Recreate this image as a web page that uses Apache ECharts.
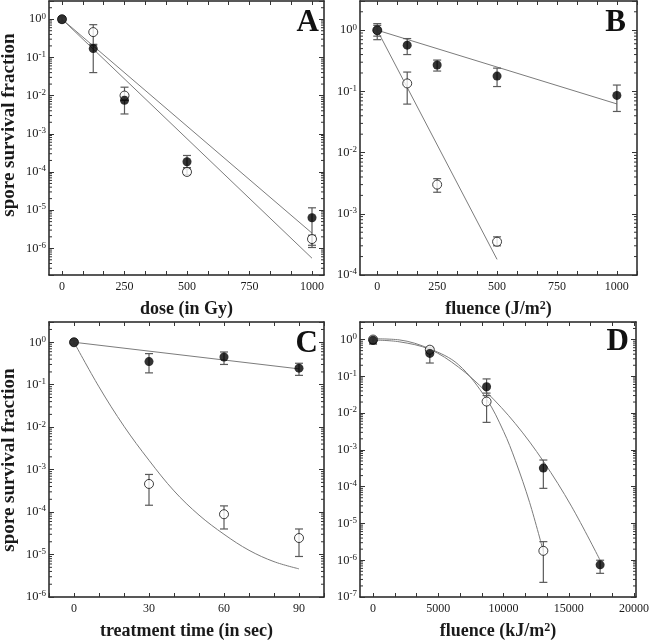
<!DOCTYPE html>
<html><head><meta charset="utf-8">
<script src="https://cdn.jsdelivr.net/npm/echarts@6/dist/echarts.min.js"></script>
<style>html,body{margin:0;padding:0;background:#fff}#c{width:650px;height:644px}</style>
</head><body><div id="c"></div>
<script>
// ---------- Panel A: dose (Gy) ----------
const aX = [0, 125, 250, 500, 1000];
const aFilled   = [1.0, 0.17, 0.0075, 1.85e-4, 6.3e-6];
const aFilledLo = [0.85, 0.04, 0.0033, 1.3e-4, 1.05e-6];
const aFilledHi = [1.15, 0.21, 0.0095, 2.7e-4, 1.15e-5];
const aOpen   = [1.0, 0.46, 0.0100, 1.0e-4, 1.75e-6];
const aOpenLo = [0.85, 0.22, 0.0075, 8.5e-5, 1.2e-6];
const aOpenHi = [1.15, 0.72, 0.0166, 1.2e-4, 2.2e-6];
const aFitX = [0, 1000];
const aFit1Y = [1.0, 2.5e-6];
const aFit2Y = [1.0, 5.5e-7];
const xTicksA = [0, 250, 500, 750, 1000];

// ---------- Panel B: fluence (J/m2) ----------
const bX = [0, 125, 250, 500, 1000];
const bFilled   = [1.0, 0.57, 0.27, 0.178, 0.086];
const bFilledLo = [0.70, 0.40, 0.215, 0.12, 0.047];
const bFilledHi = [1.28, 0.73, 0.325, 0.24, 0.127];
const bOpenX = [0, 125, 250, 500];
const bOpen   = [1.0, 0.135, 0.0030, 3.5e-4];
const bOpenLo = [0.8, 0.062, 0.00225, 3.0e-4];
const bOpenHi = [1.2, 0.207, 0.00375, 4.2e-4];
const bFit1X = [0, 1000];
const bFit1Y = [1.0, 0.0624];
const bFit2X = [0, 500];
const bFit2Y = [1.0, 1.8e-4];
const xTicksB = [0, 250, 500, 750, 1000];

// ---------- Panel C: treatment time (s) ----------
const cX = [0, 30, 60, 90];
const cFilled   = [1.0, 0.35, 0.45, 0.245];
const cFilledLo = [0.9, 0.19, 0.30, 0.166];
const cFilledHi = [1.1, 0.54, 0.59, 0.32];
const cOpen   = [1.0, 4.6e-4, 8.9e-5, 2.45e-5];
const cOpenLo = [0.9, 1.45e-4, 4.0e-5, 9.0e-6];
const cOpenHi = [1.1, 7.7e-4, 1.4e-4, 4.0e-5];
const cFit1X = [0, 90];
const cFit1Y = [1.0, 0.236];
const cFit2X = [0, 10, 20, 30, 40, 50, 60, 70, 80, 90];
const cFit2Y = [1.0, 0.089, 0.0105, 1.66e-3, 3.16e-4, 8.5e-5, 3.0e-5, 1.26e-5, 6.8e-6, 4.6e-6];
const xTicksC = [0, 30, 60, 90];

// ---------- Panel D: fluence (kJ/m2) ----------
const dX = [0, 4350, 8700, 13050, 17400];
const dFilled   = [0.95, 0.42, 0.052, 3.2e-4, 7.5e-7];
const dFilledLo = [0.75, 0.23, 0.03, 9.0e-5, 4.4e-7];
const dFilledHi = [1.15, 0.55, 0.085, 5.3e-4, 1.0e-6];
const dOpenX = [0, 4350, 8700, 13050];
const dOpen   = [1.0, 0.53, 0.0206, 1.8e-6];
const dOpenLo = [0.8, 0.45, 0.0056, 2.5e-7];
const dOpenHi = [1.15, 0.62, 0.035, 3.2e-6];
const dFit1X = [0, 2000, 4350, 6530, 8700, 10900, 13050, 15200, 17400];
const dFit1Y = [0.97, 0.87, 0.54, 0.18, 0.037, 5.2e-3, 4.9e-4, 2.95e-5, 1.0e-6];
const dFit2X = [0, 2000, 4350, 6530, 8700, 10000, 10900, 12000, 13050];
const dFit2Y = [1.05, 0.98, 0.56, 0.21, 0.024, 3.2e-3, 5.2e-4, 3.7e-5, 1.74e-6];
const xTicksD = [0, 5000, 10000, 15000, 20000];

const FONT = '"Liberation Serif","Times New Roman",serif';
const INK = '#1a1a1a';
const BAR = '#5a5a5a';
const FIT = '#7c7c7c';

const zip = (xs, ys) => xs.map((x, i) => [x, ys[i]]);
const zip3 = (xs, lo, hi) => xs.map((x, i) => [x, lo[i], hi[i]]);

function splitTicks(major, n, range) {
  const step = (major[1] - major[0]) / n, out = [];
  const k0 = Math.ceil((range[0] - major[0]) / step - 1e-9);
  const k1 = Math.floor((range[1] - major[0]) / step + 1e-9);
  for (let k = k0; k <= k1; k++) out.push(+(major[0] + k * step).toFixed(6));
  return out;
}
function logMinor(range) {
  const out = [];
  for (let d = Math.floor(Math.log10(range[0])); d <= Math.ceil(Math.log10(range[1])); d++)
    for (let k = 2; k <= 9; k++) { const v = k * Math.pow(10, d); if (v > range[0] && v < range[1]) out.push(v); }
  return out;
}

const panels = [
  { grid: {left: 49, top: 1, width: 275, height: 274}, xr: [-52, 1048], xt: xTicksA, yr: [2e-7, 3],
    xname: 'dose (in Gy)',
    filled: zip(aX, aFilled), filledErr: zip3(aX, aFilledLo, aFilledHi),
    open: zip(aX, aOpen), openErr: zip3(aX, aOpenLo, aOpenHi),
    fits: [{d: zip(aFitX, aFit1Y)}, {d: zip(aFitX, aFit2Y)}],
    letter: 'A', lx: 319, ly: 23 },
  { grid: {left: 360, top: 1, width: 277, height: 274}, xr: [-72, 1084], xt: xTicksB, yr: [1e-4, 3],
    xname: 'fluence (J/m{sup|2})',
    filled: zip(bX, bFilled), filledErr: zip3(bX, bFilledLo, bFilledHi),
    open: zip(bOpenX, bOpen), openErr: zip3(bOpenX, bOpenLo, bOpenHi),
    fits: [{d: zip(bFit1X, bFit1Y)}, {d: zip(bFit2X, bFit2Y)}],
    letter: 'B', lx: 626, ly: 23 },
  { grid: {left: 49, top: 322, width: 275, height: 275}, xr: [-10, 100], xt: xTicksC, yr: [1e-6, 3],
    xname: 'treatment time (in sec)',
    filled: zip(cX, cFilled), filledErr: zip3(cX, cFilledLo, cFilledHi),
    open: zip(cX, cOpen), openErr: zip3(cX, cOpenLo, cOpenHi),
    fits: [{d: zip(cFit1X, cFit1Y)}, {d: zip(cFit2X, cFit2Y), smooth: 0.35}],
    letter: 'C', lx: 318, ly: 344 },
  { grid: {left: 360, top: 322, width: 276, height: 275}, xr: [-1000, 20150], xt: xTicksD, yr: [1e-7, 3],
    xname: 'fluence (kJ/m{sup|2})',
    filled: zip(dX, dFilled), filledErr: zip3(dX, dFilledLo, dFilledHi),
    open: zip(dOpenX, dOpen), openErr: zip3(dOpenX, dOpenLo, dOpenHi),
    fits: [{d: zip(dFit1X, dFit1Y), smooth: 0.35}, {d: zip(dFit2X, dFit2Y), smooth: 0.35}],
    letter: 'D', lx: 629, ly: 342 }
];

const axisLine = {show: true, onZero: false, lineStyle: {color: '#222', width: 1.5}};
const grids = [], xAxes = [], yAxes = [], series = [], graphics = [];

function yFormatter(v) {
  const e = Math.log10(v), r = Math.round(e);
  if (Math.abs(e - r) > 1e-6) return '';
  return '{b|10}{s|' + (r < 0 ? '-' + (-r) : r) + '}';
}

function errRender(params, api) {
  const x = api.value(0), lo = api.value(1), hi = api.value(2);
  const p1 = api.coord([x, lo]), p2 = api.coord([x, hi]);
  const w = 4, st = {stroke: BAR, lineWidth: 1.2};
  return {type: 'group', children: [
    {type: 'line', shape: {x1: p1[0], y1: p1[1], x2: p2[0], y2: p2[1]}, style: st},
    {type: 'line', shape: {x1: p1[0] - w, y1: p1[1], x2: p1[0] + w, y2: p1[1]}, style: st},
    {type: 'line', shape: {x1: p2[0] - w, y1: p2[1], x2: p2[0] + w, y2: p2[1]}, style: st}
  ]};
}
function minorRender(params, api) {
  const cs = params.coordSys;
  const y = api.coord([api.value(0), api.value(1)])[1];
  const st = {stroke: '#333', lineWidth: 1};
  return {type: 'group', children: [
    {type: 'line', shape: {x1: cs.x, y1: y, x2: cs.x + 3, y2: y}, style: st},
    {type: 'line', shape: {x1: cs.x + cs.width - 3, y1: y, x2: cs.x + cs.width, y2: y}, style: st}
  ]};
}

panels.forEach((p, i) => {
  grids.push(Object.assign({containLabel: false, outerBoundsMode: 'none'}, p.grid));
  const xMinor = splitTicks(p.xt, 3, p.xr);
  const xBase = {
    type: 'value', gridIndex: i, min: p.xr[0], max: p.xr[1],
    axisLine: axisLine, splitLine: {show: false},
    axisTick: {show: true, inside: true, length: 4, customValues: xMinor, lineStyle: {color: '#333', width: 1}}
  };
  xAxes.push(Object.assign({}, xBase, {
    position: 'bottom',
    axisLabel: {show: true, customValues: p.xt, margin: 6, fontSize: 12, fontFamily: FONT, color: INK,
      formatter: v => String(v)},
    name: p.xname, nameLocation: 'middle', nameGap: 25,
    nameTextStyle: {fontSize: 18, fontWeight: 'bold', fontFamily: FONT, color: INK,
      rich: {sup: {fontSize: 12, fontWeight: 'bold', fontFamily: FONT, color: INK, verticalAlign: 'top'}}}
  }));
  xAxes.push(Object.assign({}, xBase, {position: 'top', axisLabel: {show: false}}));
  const yBase = {
    type: 'log', logBase: 10, gridIndex: i, min: p.yr[0], max: p.yr[1],
    axisLine: axisLine, splitLine: {show: false}, minorTick: {show: false},
    axisTick: {show: true, inside: true, length: 5, lineStyle: {color: '#333', width: 1}}
  };
  yAxes.push(Object.assign({}, yBase, {
    position: 'left',
    axisLabel: {show: true, margin: 3, formatter: yFormatter, showMinLabel: true, showMaxLabel: true,
      rich: {
        b: {fontSize: 12.5, fontFamily: FONT, color: INK, lineHeight: 15},
        s: {fontSize: 9, fontFamily: FONT, color: INK, verticalAlign: 'top'}
      }}
  }));
  yAxes.push(Object.assign({}, yBase, {position: 'right', axisLabel: {show: false}}));

  const xi = 2 * i, yi = 2 * i;
  series.push({type: 'custom', xAxisIndex: xi, yAxisIndex: yi, renderItem: minorRender, silent: true, z: 1,
    data: logMinor(p.yr).map(v => [p.xr[0], v]), encode: {x: 0, y: 1}});
  p.fits.forEach(f => series.push({type: 'line', xAxisIndex: xi, yAxisIndex: yi, data: f.d, smooth: f.smooth || false,
    showSymbol: false, symbol: 'none', silent: true, z: 2, lineStyle: {color: FIT, width: 1}}));
  series.push({type: 'custom', xAxisIndex: xi, yAxisIndex: yi, renderItem: errRender, data: p.openErr,
    encode: {x: 0, y: [1, 2]}, silent: true, z: 3});
  series.push({type: 'custom', xAxisIndex: xi, yAxisIndex: yi, renderItem: errRender, data: p.filledErr,
    encode: {x: 0, y: [1, 2]}, silent: true, z: 3});
  series.push({type: 'scatter', xAxisIndex: xi, yAxisIndex: yi, data: p.open, symbol: 'circle', symbolSize: 9,
    itemStyle: {color: '#fff', borderColor: '#111', borderWidth: 1}, silent: true, z: 4});
  series.push({type: 'scatter', xAxisIndex: xi, yAxisIndex: yi, data: p.filled, symbol: 'circle', symbolSize: 9,
    itemStyle: {color: '#000', borderColor: '#000', borderWidth: 0}, silent: true, z: 5});

  graphics.push({type: 'text', x: p.lx, y: p.ly, z: 10,
    style: {text: p.letter, font: 'bold 31px ' + FONT, fill: '#111', align: 'right', verticalAlign: 'middle'}});
});

graphics.push({type: 'text', x: 9, y: 125, rotation: Math.PI / 2, z: 10,
  style: {text: 'spore survival fraction', font: 'bold 19px ' + FONT, fill: INK, align: 'center', verticalAlign: 'middle'}});
graphics.push({type: 'text', x: 9, y: 460, rotation: Math.PI / 2, z: 10,
  style: {text: 'spore survival fraction', font: 'bold 19px ' + FONT, fill: INK, align: 'center', verticalAlign: 'middle'}});

const chart = echarts.init(document.getElementById('c'));
chart.setOption({
  backgroundColor: '#fff', animation: false,
  grid: grids, xAxis: xAxes, yAxis: yAxes, series: series, graphic: graphics
});
</script></body></html>
